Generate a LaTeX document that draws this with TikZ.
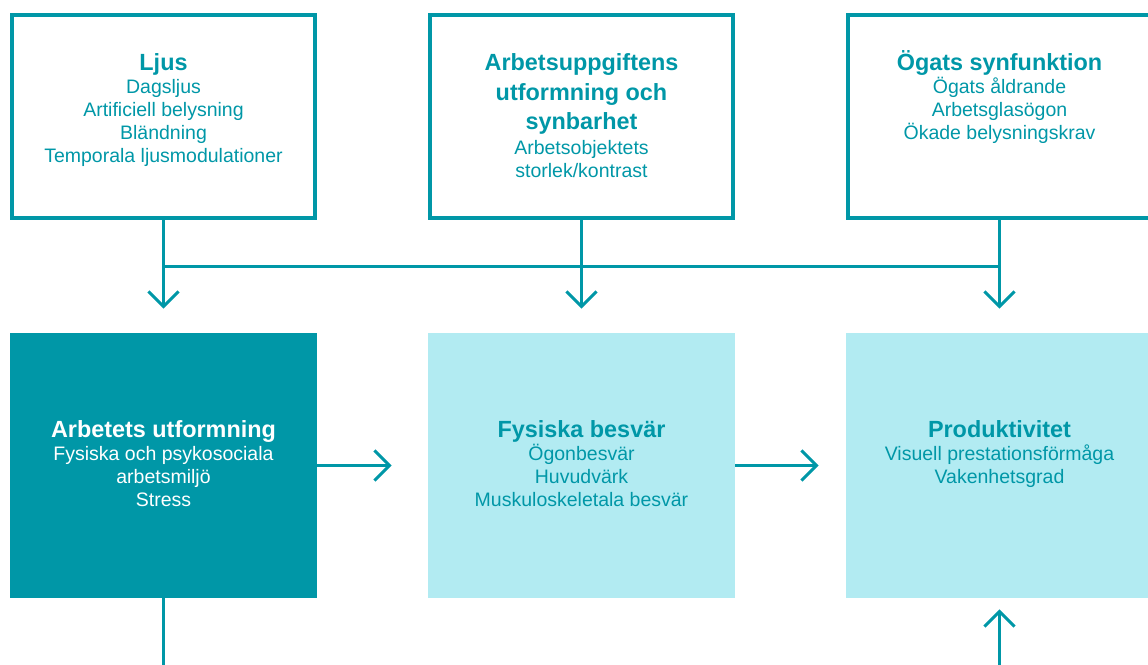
\documentclass[tikz,border=0pt]{standalone}
\usepackage{fontspec}
\setmainfont{Liberation Sans}
\usepackage{tikz}
\usetikzlibrary{shapes, arrows.meta, positioning}
\definecolor{petrol}{RGB}{0,151,167}
\definecolor{ljusbla}{RGB}{178,235,242}
\newcommand{\rubrik}[1]{{\bfseries\fontsize{23.4}{29.5}\selectfont\rule{0pt}{22pt}#1}}
\tikzstyle{frame} = [ rectangle, draw=petrol, line width=4pt, minimum width=303pt, minimum height=203pt ]
\tikzstyle{darkblock} = [ rectangle, fill=petrol, minimum width=307pt, minimum height=265pt ]
\tikzstyle{lightblock} = [ rectangle, fill=ljusbla, minimum width=307pt, minimum height=265pt ]
\tikzstyle{caption} = [ text=petrol, align=center, inner sep=0pt, anchor=north, font=\fontsize{19.5}{23}\selectfont ]
\tikzstyle{line} = [ draw=petrol, line width=3pt, -{Straight Barb[length=15pt, width=30pt]} ]
\tikzstyle{bus} = [ draw=petrol, line width=3pt ]

\begin{document}
\begin{tikzpicture}[node distance=418pt, auto, thick]
\useasboundingbox (0,0) rectangle (1148pt,-664pt);

% Factors
\node [frame] (ljus) at (163.5pt,-116.5pt) {};
\node [frame, right of=ljus] (uppgift) {};
\node [frame, right of=uppgift] (synfunktion) {};
\node [caption, below=35pt of ljus.north] (ljustext) {\rubrik{Ljus}\\ Dagsljus\\ Artificiell belysning\\ Bländning\\ Temporala ljusmodulationer};
\node [caption, below=35pt of uppgift.north] (uppgifttext) {\rubrik{Arbetsuppgiftens}\\[1.7pt] \rubrik{utformning och}\\[1.7pt] \rubrik{synbarhet}\\[1.5pt] Arbetsobjektets\\ storlek/kontrast};
\node [caption, below=35pt of synfunktion.north] (synfunktiontext) {\rubrik{Ögats synfunktion}\\ Ögats åldrande\\ Arbetsglasögon\\ Ökade belysningskrav};

% Effects
\node [darkblock, below of=ljus, node distance=349pt] (arbete) {};
\node [lightblock, right of=arbete] (besvar) {};
\node [lightblock, right of=besvar] (produktivitet) {};
\node [caption, text=white, below=82pt of arbete.north] (arbetetext) {\rubrik{Arbetets utformning}\\ Fysiska och psykosociala\\ arbetsmiljö\\ Stress};
\node [caption, below=82pt of besvar.north] (besvartext) {\rubrik{Fysiska besvär}\\ Ögonbesvär\\ Huvudvärk\\ Muskuloskeletala besvär};
\node [caption, below=82pt of produktivitet.north] (produktivitettext) {\rubrik{Produktivitet}\\ Visuell prestationsförmåga\\ Vakenhetsgrad};

\coordinate (buslinje) at (0,-266pt);
\coordinate (arbeteut) at ([yshift=-80pt]arbete.south);
\coordinate (produktivitetin) at ([yshift=-80pt]produktivitet.south);

\path [bus] (ljus.south |- buslinje) -- (synfunktion.south |- buslinje);
\path [line, shorten >=24pt] (ljus) -- (arbete);
\path [line, shorten >=24pt] (uppgift) -- (besvar);
\path [line, shorten >=24pt] (synfunktion) -- (produktivitet);
\path [line, shorten >=36pt] (arbete) -- (besvar);
\path [line, shorten >=27pt] (besvar) -- (produktivitet);
\path [bus] (arbete.south) -- (arbeteut);
\path [line, shorten >=11pt] (produktivitetin) -- (produktivitet.south);
\end{tikzpicture}
\end{document}
